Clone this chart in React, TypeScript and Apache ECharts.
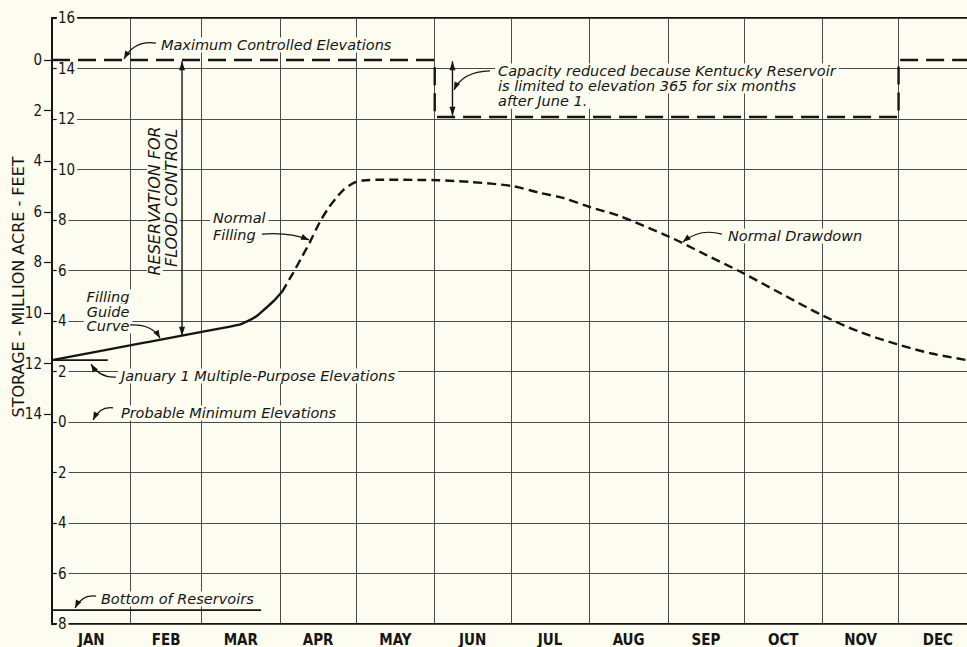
import React, { useEffect, useRef } from 'react';
import * as echarts from 'echarts';

// ---------- data ----------
const MONTHS = ['JAN', 'FEB', 'MAR', 'APR', 'MAY', 'JUN', 'JUL', 'AUG', 'SEP', 'OCT', 'NOV', 'DEC'];
const MONTH_START_DAYS = [0, 31, 59, 90, 120, 151, 181, 212, 243, 273, 304, 334];
const MONTH_MID_DAYS = [15.5, 45, 74.5, 105, 135.5, 166, 196.5, 227.5, 258, 288.5, 319, 349.5];
const X_END_DAY = 361;

// inner elevation scale : 16 ... 0 ... 8 below
const ELEV_MIN = -8;
const ELEV_MAX = 16;
const ELEV_STEP = 2;

// storage scale (million acre-feet), inverted
const STORAGE_TICKS = [0, 2, 4, 6, 8, 10, 12, 14];
const STORAGE_TOP = -1.66;
const STORAGE_BOTTOM = 22.29;

// Filling guide curve (solid)
const fillingDays = [0, 37, 74, 77, 80.5, 84, 87.5, 90.7];
const fillingStorage = [11.86, 11.16, 10.46, 10.33, 10.14, 9.84, 9.52, 9.17];

// Normal filling + normal drawdown (dashed)
const normalDays = [90.7, 95.1, 98.5, 101.8, 105.7, 109, 112.4, 115, 117.6, 120, 122.7, 130, 145, 152, 165, 181.5, 192.5, 201.6, 212.2, 224, 243.8, 258, 272.6, 288, 303.7, 318, 333.3, 347, 361];
const normalStorage = [9.17, 8.42, 7.8, 7.19, 6.4, 5.86, 5.42, 5.13, 4.94, 4.82, 4.76, 4.73, 4.74, 4.75, 4.82, 4.98, 5.25, 5.45, 5.81, 6.17, 7.0, 7.7, 8.42, 9.25, 10.08, 10.72, 11.23, 11.6, 11.86];

// Maximum controlled elevations (dashed)
const maxCtrlDays = [0, 151, 151, 334, 334, 361];
const maxCtrlStorage = [0, 0, 2.25, 2.25, 0, 0];

// January 1 multiple-purpose elevation mark
const jan1Days = [0, 22];
const jan1Storage = [11.86, 11.86];

// Bottom of reservoirs
const bottomDays = [0, 82.5];
const bottomStorage = [21.74, 21.74];

// ---------- annotations (anchors in day / storage units) ----------
type Txt = { lines: string[]; at: [number, number]; align: 'left' | 'center'; gap: number };
const TEXTS: Txt[] = [
  { lines: ['Maximum Controlled Elevations'], at: [41.8, -0.59], align: 'left', gap: 0 },
  { lines: ['Capacity reduced because Kentucky Reservoir', 'is limited to elevation 365 for six months', 'after June 1.'], at: [174.8, 0.43], align: 'left', gap: 0.6 },
  { lines: ['Normal', 'Filling'], at: [62.3, 6.25], align: 'left', gap: 0.67 },
  { lines: ['Filling', 'Guide', 'Curve'], at: [22.1, 9.37], align: 'center', gap: 0.57 },
  { lines: ['January 1 Multiple-Purpose Elevations'], at: [26.0, 12.49], align: 'left', gap: 0 },
  { lines: ['Probable Minimum Elevations'], at: [26.0, 13.95], align: 'left', gap: 0 },
  { lines: ['Bottom of Reservoirs'], at: [18.1, 21.3], align: 'left', gap: 0 },
  { lines: ['Normal Drawdown'], at: [265.5, 6.96], align: 'left', gap: 0 },
];
const ROTATED_TEXTS: { text: string; at: [number, number] }[] = [
  { text: 'RESERVATION FOR', at: [40.6, 5.57] },
  { text: 'FLOOD CONTROL', at: [47.3, 5.45] },
];
// curved leader arrows: start, control, end
const ARROWS: [number, number][][] = [
  [[41.0, -0.67], [32.5, -0.79], [28.4, -0.04]],
  [[172.8, 0.43], [161.8, 0.47], [158.6, 1.19]],
  [[82.8, 6.88], [93.9, 6.8], [101.4, 7.11]],
  [[30.8, 10.47], [39.4, 10.43], [42.6, 10.99]],
  [[25.2, 12.53], [18.9, 12.57], [15.4, 12.02]],
  [[24.1, 13.75], [18.9, 13.68], [16.2, 14.23]],
  [[17.4, 21.19], [11.8, 21.11], [9.1, 21.66]],
  [[264.3, 6.88], [255.6, 6.64], [248.9, 7.19]],
];
// vertical double arrows: day, storage from, storage to
const DOUBLE_ARROWS: [number, number, number][] = [
  [51.3, 0.05, 10.9],
  [158.0, 0.05, 2.2],
];

const BG = '#fcfcf0';
const INK = '#151515';
const GRID = '#4a4a4a';
const FONT = "'DejaVu Sans', sans-serif";
const FONT_C = "'DejaVu Sans Condensed', 'DejaVu Sans', sans-serif";

const zip = (a: number[], b: number[]) => a.map((v, i) => [v, b[i]]);

export default function App() {
  const ref = useRef<HTMLDivElement>(null);
  useEffect(() => {
    const chart = echarts.init(ref.current!, null, { renderer: 'svg' });
    const lineBase = { type: 'line', xAxisIndex: 0, yAxisIndex: 1, symbol: 'none', silent: true, z: 5 };
    chart.setOption({
      animation: false,
      backgroundColor: BG,
      grid: { left: 52, right: 0, top: 18, bottom: 23, containLabel: false },
      xAxis: [
        {
          type: 'value', position: 'bottom', min: 0, max: X_END_DAY,
          axisLine: { show: true, onZero: false, lineStyle: { color: INK, width: 2 } },
          axisTick: { show: false, customValues: MONTH_START_DAYS.slice(1) },
          splitLine: { show: true, lineStyle: { color: GRID, width: 1 } },
          axisLabel: {
            customValues: MONTH_MID_DAYS, margin: 8, color: INK, fontFamily: FONT_C, fontSize: 15, fontWeight: 'bold',
            formatter: (v: number) => MONTHS[MONTH_MID_DAYS.indexOf(v)] ?? '',
          },
        },
        {
          type: 'value', position: 'top', min: 0, max: X_END_DAY,
          axisLine: { show: true, onZero: false, lineStyle: { color: INK, width: 2 } },
          axisTick: { show: false }, axisLabel: { show: false }, splitLine: { show: false },
        },
      ],
      yAxis: [
        {
          type: 'value', position: 'left', min: ELEV_MIN, max: ELEV_MAX, interval: ELEV_STEP, z: 3,
          axisLine: { show: true, onZero: false, lineStyle: { color: INK, width: 2 } },
          axisTick: { show: true, inside: true, length: 4, lineStyle: { color: INK, width: 1.2 } },
          splitLine: { show: true, lineStyle: { color: GRID, width: 1 } },
          axisLabel: {
            inside: true, margin: 5, color: INK, fontFamily: FONT_C, fontSize: 15,
            showMinLabel: true, showMaxLabel: true,
            backgroundColor: BG, padding: [0, 2, 0, 1],
            formatter: (v: number) => String(Math.abs(v)),
          },
        },
        {
          type: 'value', position: 'left', inverse: true, min: STORAGE_TOP, max: STORAGE_BOTTOM,
          axisLine: { show: false },
          axisTick: { show: true, customValues: STORAGE_TICKS, length: 8, lineStyle: { color: INK, width: 1.2 } },
          splitLine: { show: false },
          axisLabel: { customValues: STORAGE_TICKS, margin: 10, color: INK, fontFamily: FONT_C, fontSize: 15 },
        },
      ],
      series: [
        { ...lineBase, name: 'Filling Guide Curve', data: zip(fillingDays, fillingStorage), smooth: 0.2, lineStyle: { color: INK, width: 2.4 } },
        { ...lineBase, name: 'Normal Filling / Drawdown', data: zip(normalDays, normalStorage), smooth: 0.3, lineStyle: { color: INK, width: 2.4, type: [9, 5] } },
        { ...lineBase, name: 'Maximum Controlled Elevations', data: zip(maxCtrlDays, maxCtrlStorage), lineStyle: { color: INK, width: 2.4, type: [18, 8] } },
        { ...lineBase, name: 'January 1 Multiple-Purpose Elevations', data: zip(jan1Days, jan1Storage), lineStyle: { color: INK, width: 1.6 } },
        { ...lineBase, name: 'Bottom of Reservoirs', data: zip(bottomDays, bottomStorage), lineStyle: { color: INK, width: 1.6 } },
      ],
    });

    const px = (p: [number, number] | number[]) => chart.convertToPixel({ seriesIndex: 0 }, p) as number[];
    const els: any[] = [];
    const head = (e: number[], c: number[], len = 8, w = 3) => {
      const dx = e[0] - c[0], dy = e[1] - c[1];
      const L = Math.hypot(dx, dy) || 1;
      const ux = dx / L, uy = dy / L;
      const bx = e[0] - ux * len, by = e[1] - uy * len;
      return {
        type: 'polygon', z: 20, silent: true,
        shape: { points: [[e[0], e[1]], [bx - uy * w, by + ux * w], [bx + uy * w, by - ux * w]] },
        style: { fill: INK },
      };
    };
    TEXTS.forEach((t) => {
      t.lines.forEach((line, i) => {
        const p = px([t.at[0], t.at[1] + i * t.gap]);
        els.push({
          type: 'text', x: p[0], y: p[1], z: 15, silent: true,
          style: {
            text: line, fill: INK, font: `italic 14.5px ${FONT}`,
            align: t.align, verticalAlign: 'middle', backgroundColor: BG, padding: [0, 3],
          },
        });
      });
    });
    ROTATED_TEXTS.forEach((t) => {
      const p = px(t.at);
      els.push({
        type: 'text', x: p[0], y: p[1], rotation: Math.PI / 2, z: 15, silent: true,
        style: { text: t.text, fill: INK, font: `italic 16px ${FONT}`, align: 'center', verticalAlign: 'middle', backgroundColor: BG, padding: [0, 2] },
      });
    });
    ARROWS.forEach(([s, c, e]) => {
      const a = px(s), b = px(c), d = px(e);
      els.push({
        type: 'bezierCurve', z: 20, silent: true,
        shape: { x1: a[0], y1: a[1], cpx1: b[0], cpy1: b[1], x2: d[0], y2: d[1] },
        style: { stroke: INK, lineWidth: 1.2, fill: 'none' },
      });
      els.push(head(d, b));
    });
    DOUBLE_ARROWS.forEach(([day, s0, s1]) => {
      const a = px([day, s0]), b = px([day, s1]);
      els.push({ type: 'line', z: 20, silent: true, shape: { x1: a[0], y1: a[1], x2: b[0], y2: b[1] }, style: { stroke: INK, lineWidth: 1.4 } });
      els.push(head(a, b, 9, 3));
      els.push(head(b, a, 9, 3));
    });
    // y-axis title
    els.push({
      type: 'text', x: 18, y: 287, rotation: Math.PI / 2, silent: true,
      style: { text: 'STORAGE - MILLION ACRE - FEET', fill: INK, font: `16px ${FONT}`, align: 'center', verticalAlign: 'middle' },
    });
    chart.setOption({ graphic: { elements: els } });
    return () => chart.dispose();
  }, []);
  return <div ref={ref} style={{ position: 'fixed', left: 0, top: 0, width: 967, height: 647, background: BG }} />;
}
